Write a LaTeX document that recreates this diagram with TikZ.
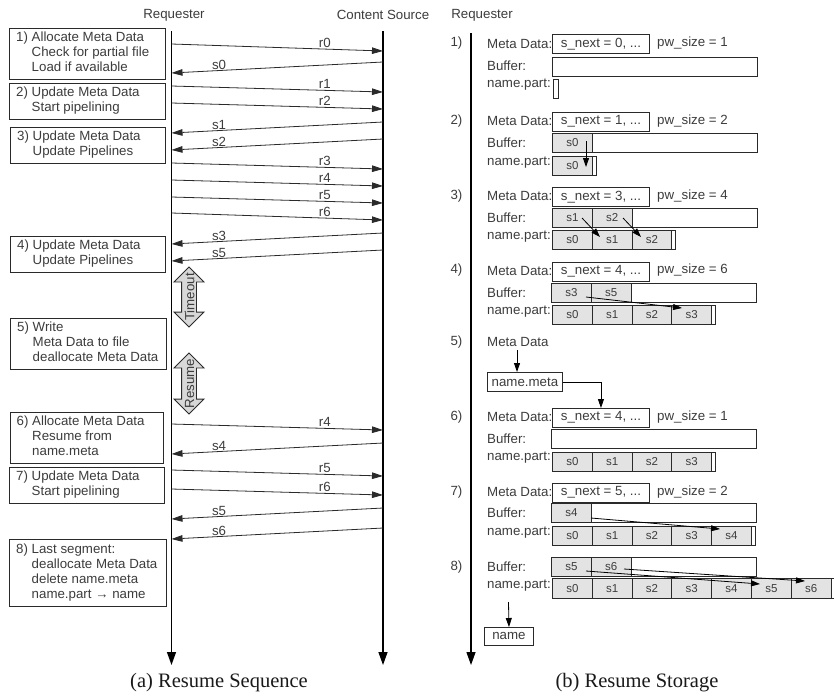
\documentclass[tikz,border=0pt]{standalone}
\usepackage{fontspec}
\setmainfont{Liberation Sans}
\newfontfamily\capfont{Liberation Serif}
\usetikzlibrary{arrows.meta,shapes.arrows}
\definecolor{txt}{HTML}{3C3C3C}
\definecolor{ln}{HTML}{2A2A2A}
\definecolor{cellfill}{HTML}{E3E3E3}
\definecolor{arrfill}{HTML}{D8D8D8}
\begin{document}
\begin{tikzpicture}[x=1pt,y=-1pt,
  every node/.style={text=txt, font=\fontsize{13.3}{15}\selectfont},
  stepbox/.style={draw=ln, line width=0.9pt, inner sep=0pt, anchor=north west},
  steptext/.style={align=left, inner sep=0pt, anchor=west},
  msg/.style={draw=ln, line width=0.8pt, -{Triangle[length=11pt,width=6.5pt]}},
  life/.style={draw=black, line width=1.3pt, -{Triangle[length=13pt,width=9pt]}},
  lbl/.style={above, inner sep=1pt},
  rlab/.style={anchor=west, inner sep=0pt},
  metabox/.style={draw=ln, line width=0.9pt, minimum width=97pt, minimum height=18.5pt, inner sep=0pt, anchor=north west},
  bufbox/.style={draw=ln, line width=0.9pt, minimum width=205pt, minimum height=19pt, inner sep=0pt, anchor=north west},
  cell/.style={draw=ln, fill=cellfill, line width=0.9pt, minimum width=39.8pt, minimum height=19pt, inner sep=0pt, anchor=north west, font=\fontsize{11.5}{12}\selectfont},
  npframe/.style={draw=ln, fill=white, line width=0.9pt, inner sep=0pt, anchor=north west, minimum height=19pt},
  sarr/.style={draw=black, line width=0.8pt, -{Triangle[length=9pt,width=6pt]}},
  dblarr/.style={double arrow, draw=ln, fill=arrfill, line width=0.9pt, inner xsep=0pt, inner ysep=7pt, double arrow head extend=7.5pt, rotate=90},
  captext/.style={font=\capfont\fontsize{20.5}{22}\selectfont, text=black!90}
]
\useasboundingbox (0,0) rectangle (834,697);

% ---------------- left: sequence ----------------
\node (hreq) at (174,15) {Requester};
\node (hsrc) at (383,15) {Content Source};
\coordinate (lt) at (171.5,31);
\coordinate (lb) at (171.5,665);
\coordinate (ct) at (383,31);
\coordinate (cb) at (383,665);
\draw[life] (lt) -- (lb);
\draw[life] (ct) -- (cb);

\node[stepbox, minimum width=156pt, minimum height=51pt] (b1) at (9,28) {};
\node[steptext] (b1t) at (16,53.5)
  {1) Allocate Meta Data\\\phantom{1) }Check for partial file\\\phantom{1) }Load if available};
\node[stepbox, minimum width=156pt, minimum height=36pt] (b2) at (9,83) {};
\node[steptext] (b2t) at (16,101)
  {2) Update Meta Data\\\phantom{2) }Start pipelining};
\node[stepbox, minimum width=155pt, minimum height=36pt] (b3) at (10,127) {};
\node[steptext] (b3t) at (17,145)
  {3) Update Meta Data\\\phantom{3) }Update Pipelines};
\node[stepbox, minimum width=155pt, minimum height=36pt] (b4) at (10,236) {};
\node[steptext] (b4t) at (17,254)
  {4) Update Meta Data\\\phantom{4) }Update Pipelines};
\node[stepbox, minimum width=156pt, minimum height=51pt] (b5) at (10,318) {};
\node[steptext] (b5t) at (17,343.5)
  {5) Write\\\phantom{5) }Meta Data to file\\\phantom{5) }deallocate Meta Data};
\node[stepbox, minimum width=153pt, minimum height=51pt] (b6) at (10,412) {};
\node[steptext] (b6t) at (16.5,437.5)
  {6) Allocate Meta Data\\\phantom{6) }Resume from\\\phantom{6) }name.meta};
\node[stepbox, minimum width=155pt, minimum height=36pt] (b7) at (9,467) {};
\node[steptext] (b7t) at (16,485)
  {7) Update Meta Data\\\phantom{7) }Start pipelining};
\node[stepbox, minimum width=157pt, minimum height=67pt] (b8) at (9,539) {};
\node[steptext] (b8t) at (16,572.5)
  {8) Last segment:\\\phantom{8) }deallocate Meta Data\\\phantom{8) }delete name.meta\\\phantom{8) }name.part → name};

% requests (left to right)
\foreach \nm/\ya/\yb/\t in {ra/44/51/r0, rb/86/92/r1, rc/103/109/r2, rd/163/169/r3,
    re/180/186/r4, rf/197/203/r5, rg/213/220/r6, rh/424/430/r4, ri/470/476/r5, rj/489/495/r6} {
  \coordinate (\nm s) at (171.5,\ya);
  \coordinate (\nm e) at (383,\yb);
  \draw[msg] (\nm s) -- node[lbl, pos=0.725] (\nm l) {\t} (\nm e);
}
% segments (right to left)
\foreach \nm/\ya/\yb/\t in {sa/62/73/s0, sb/122/133/s1, sc/139/150/s2, sd/233/244/s3,
    se/250/261/s5, sf/443/454/s4, sg/508/519/s5, sh/528/539/s6} {
  \coordinate (\nm s) at (383,\ya);
  \coordinate (\nm e) at (171.5,\yb);
  \draw[msg] (\nm s) -- node[lbl, pos=0.775] (\nm l) {\t} (\nm e);
}

\node[dblarr, minimum height=60pt] (tmo) at (189,297) {};
\node[rotate=90, inner sep=0pt] (tmol) at (189.5,297) {Timeout};
\node[dblarr, minimum height=61pt] (rsm) at (189,383.5) {};
\node[rotate=90, inner sep=0pt] (rsml) at (189.5,383.5) {Resume};

\node[captext] (capa) at (219,683) {(a) Resume Sequence};

% ---------------- right: storage ----------------
\node (hreq2) at (482,15) {Requester};
\coordinate (rt) at (471,33);
\coordinate (rb) at (471,665);
\draw[life] (rt) -- (rb);

% step 1
\node (k1) at (456.5,43.5) {1)};
\node[rlab] (md1) at (487,43.5) {Meta Data:};
\node[metabox] (mb1) at (552,34) {s\_next = 0, ...};
\node[rlab] (pw1) at (657,43.5) {pw\_size = 1};
\node[rlab] (bl1) at (487,66) {Buffer:};
\node[bufbox] (bb1) at (552,57) {};
\node[rlab] (nl1) at (487,85) {name.part:};
\node[npframe, minimum width=4.5pt] (nf1) at (553,79) {};

% step 2
\node (k2) at (456.5,121) {2)};
\node[rlab] (md2) at (487,121) {Meta Data:};
\node[metabox] (mb2) at (552,112) {s\_next = 1, ...};
\node[rlab] (pw2) at (657,121) {pw\_size = 2};
\node[rlab] (bl2) at (487,142.5) {Buffer:};
\node[bufbox] (bb2) at (552,133) {};
\node[cell] (b2c0) at (552,133) {s0};
\node[rlab] (nl2) at (487,163) {name.part:};
\node[npframe, minimum width=43.8pt] (nf2) at (552,156) {};
\node[cell] (n2c0) at (552,156) {s0};
\coordinate (a2s) at (586,141);
\coordinate (a2e) at (586,167);
\draw[sarr] (a2s) -- (a2e);

% step 3
\node (k3) at (456.5,196) {3)};
\node[rlab] (md3) at (487,196) {Meta Data:};
\node[metabox] (mb3) at (552,187) {s\_next = 3, ...};
\node[rlab] (pw3) at (657,196) {pw\_size = 4};
\node[rlab] (bl3) at (487,217.5) {Buffer:};
\node[bufbox] (bb3) at (552,208) {};
\node[cell] (b3c1) at (552,208) {s1};
\node[cell] (b3c2) at (591.8,208) {s2};
\node[rlab] (nl3) at (487,237) {name.part:};
\node[npframe, minimum width=123.4pt] (nf3) at (552,230) {};
\foreach \k in {0,1,2} { \node[cell] (n3c\k) at ({552+39.8*\k},230) {s\k}; }
\coordinate (a3s) at (582,218);
\coordinate (a3e) at (600,237);
\coordinate (a3t) at (623,218);
\coordinate (a3f) at (641,237);
\draw[sarr] (a3s) -- (a3e);
\draw[sarr] (a3t) -- (a3f);

% step 4
\node (k4) at (456.5,270.5) {4)};
\node[rlab] (md4) at (487,270.5) {Meta Data:};
\node[metabox] (mb4) at (552,262) {s\_next = 4, ...};
\node[rlab] (pw4) at (657,270.5) {pw\_size = 6};
\node[rlab] (bl4) at (487,292.5) {Buffer:};
\node[bufbox] (bb4) at (551,283) {};
\node[cell] (b4c3) at (551,283) {s3};
\node[cell] (b4c5) at (590.8,283) {s5};
\node[rlab] (nl4) at (487,312) {name.part:};
\node[npframe, minimum width=163.2pt] (nf4) at (552,305) {};
\foreach \k in {0,1,2,3} { \node[cell] (n4c\k) at ({552+39.8*\k},305) {s\k}; }
\coordinate (a4s) at (586,297);
\coordinate (a4e) at (682,308);
\draw[sarr] (a4s) -- (a4e);

% step 5
\node (k5) at (456.5,342) {5)};
\node[rlab] (md5) at (487,342) {Meta Data};
\coordinate (a5s) at (517,350);
\node[draw=ln, line width=0.9pt, minimum width=75pt, minimum height=19pt, inner sep=0pt, anchor=north west] (nmeta) at (487,372) {name.meta};
\draw[sarr] (a5s) -- (a5s |- nmeta.north);

% step 6
\node (k6) at (456.5,417) {6)};
\node[rlab] (md6) at (487,417) {Meta Data:};
\node[metabox] (mb6) at (552,408) {s\_next = 4, ...};
\node[rlab] (pw6) at (657,417) {pw\_size = 1};
\node[rlab] (bl6) at (487,438.5) {Buffer:};
\node[bufbox] (bb6) at (551,429) {};
\node[rlab] (nl6) at (487,458) {name.part:};
\node[npframe, minimum width=163.2pt] (nf6) at (552,452) {};
\foreach \k in {0,1,2,3} { \node[cell] (n6c\k) at ({552+39.8*\k},452) {s\k}; }
\draw[draw=black, line width=0.8pt, -{Triangle[length=9pt,width=6pt]}] (nmeta.east) -| (mb6.north);

% step 7
\node (k7) at (456.5,492) {7)};
\node[rlab] (md7) at (487,492) {Meta Data:};
\node[metabox] (mb7) at (552,483) {s\_next = 5, ...};
\node[rlab] (pw7) at (657,492) {pw\_size = 2};
\node[rlab] (bl7) at (487,512.5) {Buffer:};
\node[bufbox] (bb7) at (551,503) {};
\node[cell] (b7c4) at (551,503) {s4};
\node[rlab] (nl7) at (487,532.5) {name.part:};
\node[npframe, minimum width=203pt] (nf7) at (552,526) {};
\foreach \k in {0,1,2,3,4} { \node[cell] (n7c\k) at ({552+39.8*\k},526) {s\k}; }
\coordinate (a7s) at (591,518);
\coordinate (a7e) at (720,529);
\draw[sarr] (a7s) -- (a7e);

% step 8
\node (k8) at (456.5,567) {8)};
\node[rlab] (bl8) at (487,567) {Buffer:};
\node[bufbox] (bb8) at (551,557) {};
\node[cell] (b8c5) at (551,557) {s5};
\node[cell] (b8c6) at (590.8,557) {s6};
\node[rlab] (nl8) at (487,586) {name.part:};
\node[npframe, minimum width=282.6pt, minimum height=20pt] (nf8) at (552,578) {};
\foreach \k in {0,1,2,3,4,5,6} { \node[cell, minimum height=20pt] (n8c\k) at ({552+39.8*\k},578) {s\k}; }
\coordinate (a8s) at (586,571);
\coordinate (a8e) at (760,584);
\coordinate (a8t) at (624,569);
\coordinate (a8f) at (805,581);
\draw[sarr] (a8s) -- (a8e);
\draw[sarr] (a8t) -- (a8f);
\node[draw=ln, line width=0.9pt, minimum width=49pt, minimum height=18pt, inner sep=0pt, anchor=north west] (nfin) at (484,627) {name};
\coordinate (a9s) at (508.5,602);
\draw[sarr] (a9s) -- (nfin.north);

\node[captext] (capb) at (637,683) {(b) Resume Storage};
\end{tikzpicture}
\end{document}
